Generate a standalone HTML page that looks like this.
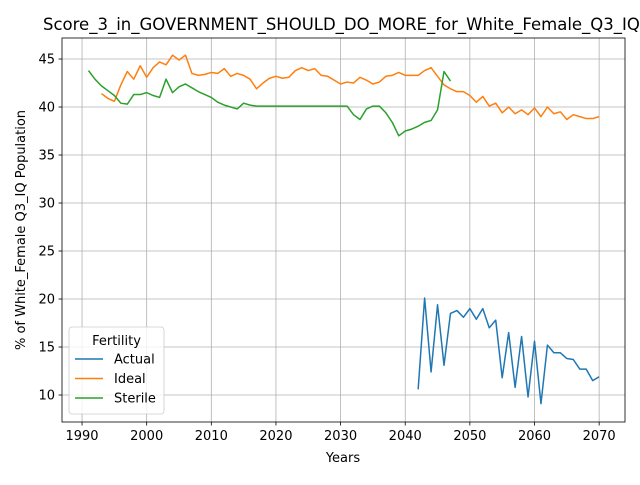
<!DOCTYPE html>
<html><head><meta charset="utf-8"><style>body{margin:0;background:#fff}svg{font-family:"DejaVu Sans","Liberation Sans",sans-serif}</style></head>
<body>
<svg id="chart" width="640" height="480" xmlns="http://www.w3.org/2000/svg">
<rect width="640" height="480" fill="#fff"/>
<g id="grid"></g><g id="series"></g><g id="axes"></g>
</svg>
<script>
const years = ["1990","2000","2010","2020","2030","2040","2050","2060","2070"];
const yTicks = [10,15,20,25,30,35,40,45];
const actualStart = 2042;
const actual = [10.6,20.1,12.4,19.4,13.1,18.5,18.8,18.1,19.0,17.9,19.0,17.0,17.8,11.8,16.5,10.8,16.1,9.8,15.6,9.1,15.2,14.4,14.4,13.8,13.7,12.7,12.7,11.5,11.9];
const idealStart = 1993;
const ideal = [41.4,40.9,40.6,42.3,43.7,42.9,44.3,43.1,44.1,44.7,44.4,45.4,44.9,45.4,43.5,43.3,43.4,43.6,43.5,44.0,43.2,43.5,43.3,42.9,41.9,42.5,43.0,43.2,43.0,43.1,43.8,44.1,43.8,44.0,43.3,43.2,42.8,42.4,42.6,42.5,43.1,42.8,42.4,42.6,43.2,43.3,43.6,43.3,43.3,43.3,43.8,44.1,43.2,42.3,41.9,41.6,41.6,41.2,40.5,41.1,40.1,40.4,39.4,40.0,39.3,39.7,39.2,39.9,39.0,40.0,39.3,39.5,38.7,39.2,39.0,38.8,38.8,39.0];
const sterileStart = 1991;
const sterile = [43.8,42.9,42.2,41.7,41.2,40.4,40.3,41.3,41.3,41.5,41.2,41.0,42.9,41.5,42.1,42.4,42.0,41.6,41.3,41.0,40.5,40.2,40.0,39.8,40.4,40.2,40.1,40.1,40.1,40.1,40.1,40.1,40.1,40.1,40.1,40.1,40.1,40.1,40.1,40.1,40.1,39.2,38.7,39.8,40.1,40.1,39.4,38.4,37.0,37.5,37.7,38.0,38.4,38.6,39.7,43.7,42.7];
const L=62,R=625,T=38,B=422,x0=1986.9,x1=2074.0,y0=7.19,y1=47.19;
const xs=v=>L+(v-x0)/(x1-x0)*(R-L), ys=v=>B-(v-y0)/(y1-y0)*(B-T);
const NS="http://www.w3.org/2000/svg";
function mk(tag,attrs,parent,text){const e=document.createElementNS(NS,tag);for(const k in attrs)e.setAttribute(k,attrs[k]);if(text!==undefined)e.textContent=text;parent.appendChild(e);return e;}
const grid=document.getElementById('grid'),ser=document.getElementById('series'),ax=document.getElementById('axes');
years.forEach(y=>{const x=xs(+y);
 const g=mk('line',{x1:x,x2:x,y1:T,y2:B,stroke:'#b0b0b0','stroke-width':0.8},grid);
 
 
 mk('line',{x1:x,x2:x,y1:B,y2:B+3.5,stroke:'#000','stroke-width':0.8},ax);
 const t=mk('text',{x:x,y:B+18,'text-anchor':'middle','font-size':13,fill:'#000'},ax,y);
 
 
});
yTicks.forEach(v=>{const y=ys(v);
 const g=mk('line',{x1:L,x2:R,y1:y,y2:y,stroke:'#b0b0b0','stroke-width':0.8},grid);
 
 
 mk('line',{x1:L-3.5,x2:L,y1:y,y2:y,stroke:'#000','stroke-width':0.8},ax);
 const t=mk('text',{x:L-7,y:y+4.5,'text-anchor':'end','font-size':13,fill:'#000'},ax,String(v));
 
 
});
function line(arr,start,color,name){const p=mk('polyline',{points:arr.map((v,i)=>xs(start+i)+','+ys(v)).join(' '),fill:'none',stroke:color,'stroke-width':1.5,'stroke-linejoin':'round'},ser);
 
 }
line(actual,actualStart,'#1f77b4','actual-line');
line(ideal,idealStart,'#ff7f0e','ideal-line');
line(sterile,sterileStart,'#2ca02c','sterile-line');
const fr=mk('rect',{x:L,y:T,width:R-L,height:B-T,fill:'none',stroke:'#000','stroke-width':0.8},ax);


const tt=mk('text',{x:43,y:30,'text-anchor':'start','font-size':16.5,fill:'#000'},ax,'Score_3_in_GOVERNMENT_SHOULD_DO_MORE_for_White_Female_Q3_IQ');


const xt=mk('text',{x:343,y:462,'text-anchor':'middle','font-size':13,fill:'#000'},ax,'Years');


const yt=mk('text',{x:0,y:0,'text-anchor':'middle','font-size':13,fill:'#000',transform:'translate(25,230) rotate(-90)'},ax,'% of White_Female Q3_IQ Population');


const lg=mk('g',{},ax);


mk('rect',{x:69,y:327,width:95,height:87,rx:3,fill:'#fff','fill-opacity':0.8,stroke:'#ccc','stroke-width':0.8},lg);
mk('text',{x:116.5,y:345,'text-anchor':'middle','font-size':13,fill:'#000'},lg,'Fertility');
[['Actual','#1f77b4'],['Ideal','#ff7f0e'],['Sterile','#2ca02c']].forEach((d,i)=>{const y=359+i*19.5;
 const e=mk('g',{},lg);
 
 
 mk('line',{x1:75,x2:103,y1:y,y2:y,stroke:d[1],'stroke-width':1.5},e);
 mk('text',{x:114,y:y+4.5,'font-size':13,fill:'#000'},e,d[0]);
});
</script>
</body></html>
